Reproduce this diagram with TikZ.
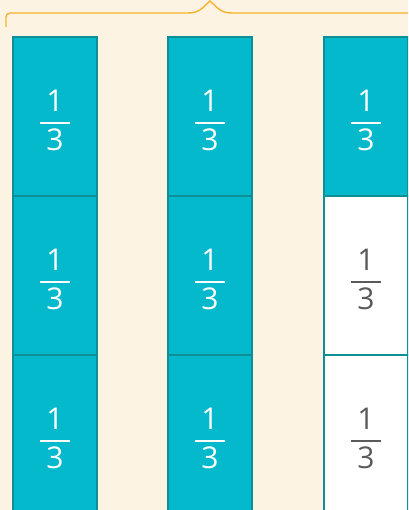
\documentclass[tikz,border=0pt]{standalone}
\usepackage{fontspec}
\setmainfont{Open Sans}
\definecolor{cream}{HTML}{FDF3E3}
\definecolor{tealfill}{HTML}{05B9CD}
\definecolor{tealline}{HTML}{0E8F98}
\definecolor{bracecol}{HTML}{F8B22C}
\definecolor{graytext}{HTML}{5A5A5A}
\newcommand{\onethird}{\begin{tabular}{@{}c@{}}\rule{0pt}{40pt}1\\[-24pt]\rule{30pt}{1.4pt}\\[-9pt]3\end{tabular}}
\tikzset{
  part/.style={draw=tealline, line width=1.3pt, fill=tealfill, text=white,
    minimum width=84pt, minimum height=159pt, inner sep=0pt,
    font=\fontsize{30}{36}\selectfont},
  emptypart/.style={part, fill=white, text=graytext}
}
\begin{document}
\begin{tikzpicture}[x=1pt,y=1pt]
\useasboundingbox[fill=cream] (0,0) rectangle (408,-510);
\clip (0,0) rectangle (408,-510);

% brace over the three columns
\draw[bracecol, line width=1.4pt]
  (6,-27) -- (6,-17) arc[start angle=180, end angle=90, radius=4] -- (188,-13)
  .. controls (200,-13) and (203,-7) .. (210,-1)
  .. controls (217,-7) and (220,-13) .. (232,-13) -- (410,-13);

\node[part] (a1) at (55,-116.5) {\onethird};
\node[part] (a2) at (55,-275.5) {\onethird};
\node[part] (a3) at (55,-434.5) {\onethird};

\node[part] (b1) at (210,-116.5) {\onethird};
\node[part] (b2) at (210,-275.5) {\onethird};
\node[part] (b3) at (210,-434.5) {\onethird};

\node[part] (c1) at (366,-116.5) {\onethird};
\node[emptypart] (c2) at (366,-275.5) {\onethird};
\node[emptypart] (c3) at (366,-434.5) {\onethird};
\end{tikzpicture}
\end{document}
